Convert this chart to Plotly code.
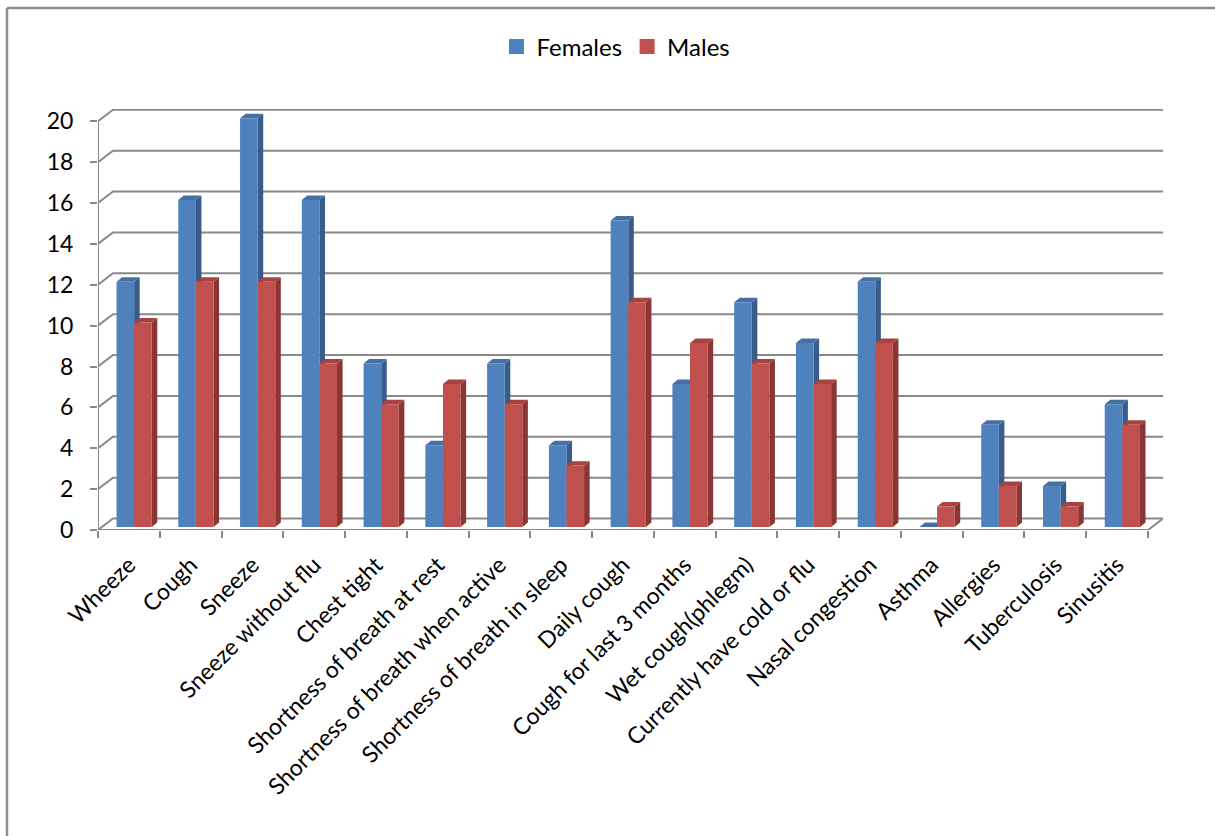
import plotly.graph_objects as go

categories = ["Wheeze", "Cough", "Sneeze", "Sneeze without flu", "Chest tight",
              "Shortness of breath at rest", "Shortness of breath when active",
              "Shortness of breath in sleep", "Daily cough", "Cough for last 3 months",
              "Wet cough(phlegm)", "Currently have cold or flu", "Nasal congestion",
              "Asthma", "Allergies", "Tuberculosis", "Sinusitis"]
females = [12, 16, 20, 16, 8, 4, 8, 4, 15, 7, 11, 9, 12, 0, 5, 2, 6]
males = [10, 12, 12, 8, 6, 7, 6, 3, 11, 9, 8, 7, 9, 1, 2, 1, 5]
y_ticks = [0, 2, 4, 6, 8, 10, 12, 14, 16, 18, 20]

FONT = "Lato, Calibri, Carlito, sans-serif"
W, H = 1215, 836
ML, MR, MT, MB = 98, 52, 109, 306
n = len(categories)
idx = list(range(n))

# 3D-look geometry (in data units)
DX, DY = 0.243, 0.56          # wall depth
ddx, ddy = 0.09, 0.22         # bar depth
BASE = 0.15
BW = 0.285
OFF_F, OFF_M = -0.2, -0.2 + BW
XMAX = n - 0.5 + DX
YMAX = 20.6

GRID = "#898989"
series = [
    ("Females", females, OFF_F, "#4F81BD", "#385D8A", "#4470A6"),
    ("Males", males, OFF_M, "#C0504D", "#8A3734", "#A8423F"),
]

fig = go.Figure()
for name, vals, off, front, side, top in series:
    fig.add_trace(go.Bar(
        name=name, x=idx, y=vals, base=[BASE] * n, width=BW, offset=off,
        marker=dict(color=front, line=dict(width=0)), showlegend=False,
    ))
# legend entries (larger square keys)
for name, vals, off, front, side, top in series:
    fig.add_trace(go.Scatter(
        name=name, x=[None], y=[None], mode="markers",
        marker=dict(symbol="square", size=15, color=front, line=dict(width=0)),
        showlegend=True, hoverinfo="skip",
    ))

shapes = []
# back wall gridlines with side-wall diagonals
for v in y_ticks:
    shapes.append(dict(type="path", xref="x", yref="y", layer="below",
                       path=f"M -0.5,{v} L {-0.5+DX},{v+DY} L {XMAX},{v+DY}",
                       line=dict(color=GRID, width=2)))
# floor front edge and right diagonal
shapes.append(dict(type="path", xref="x", yref="y", layer="below",
                   path=f"M -0.5,0 L {n-0.5},0 L {XMAX},{DY}",
                   line=dict(color=GRID, width=2)))
# front vertical axis
shapes.append(dict(type="line", xref="x", yref="y", layer="below",
                   x0=-0.5, x1=-0.5, y0=0, y1=20, line=dict(color=GRID, width=2)))

# bar side and top faces
for name, vals, off, front, side, top in series:
    for i, v in enumerate(vals):
        xl = i + off
        xr = xl + BW
        b = BASE
        t = BASE + v
        shapes.append(dict(type="path", xref="x", yref="y", layer="below",
                           path=f"M {xr},{b} L {xr},{t} L {xr+ddx},{t+ddy} L {xr+ddx},{b+ddy} Z",
                           fillcolor=side, line=dict(width=0)))
        shapes.append(dict(type="path", xref="x", yref="y", layer="below",
                           path=f"M {xl},{t} L {xr},{t} L {xr+ddx},{t+ddy} L {xl+ddx},{t+ddy} Z",
                           fillcolor=top, line=dict(width=0)))

# chart border (top and left)
pw, ph = W - ML - MR, H - MT - MB
def px_x(p):
    return (p - ML) / pw
def px_y(p):
    return (H - MB - p) / ph
shapes.append(dict(type="line", xref="paper", yref="paper",
                   x0=px_x(7), x1=px_x(1216), y0=px_y(8), y1=px_y(8),
                   line=dict(color="#8C8C8C", width=2.5)))
shapes.append(dict(type="line", xref="paper", yref="paper",
                   x0=px_x(7), x1=px_x(7), y0=px_y(8), y1=px_y(840),
                   line=dict(color="#8C8C8C", width=2.5)))

fig.update_layout(
    width=W, height=H,
    margin=dict(l=ML, r=MR, t=MT, b=MB),
    paper_bgcolor="white", plot_bgcolor="white",
    barmode="overlay",
    font=dict(family=FONT, size=23, color="#000000"),
    showlegend=True,
    legend=dict(orientation="h", x=px_x(616), xanchor="center", y=px_y(47), yanchor="middle",
                font=dict(family=FONT, size=24, color="#000000"), itemwidth=30),
    shapes=shapes,
    xaxis=dict(range=[-0.5, XMAX], tickmode="array", tickvals=idx, ticktext=categories,
               tickangle=-45, ticks="", showgrid=False, zeroline=False, showline=False,
               ticklabelstandoff=16,
               tickfont=dict(family=FONT, size=23, color="#000000"),
               minor=dict(ticks="outside", ticklen=7, tickcolor=GRID, tickwidth=2,
                          tick0=-0.5, dtick=1, showgrid=False)),
    yaxis=dict(range=[0, YMAX], tickmode="array", tickvals=y_ticks,
               ticks="outside", ticklen=7, tickcolor=GRID, tickwidth=2,
               showgrid=False, zeroline=False, showline=False, ticklabelstandoff=12,
               tickfont=dict(family=FONT, size=23, color="#000000")),
)

fig.write_html("out.html")
